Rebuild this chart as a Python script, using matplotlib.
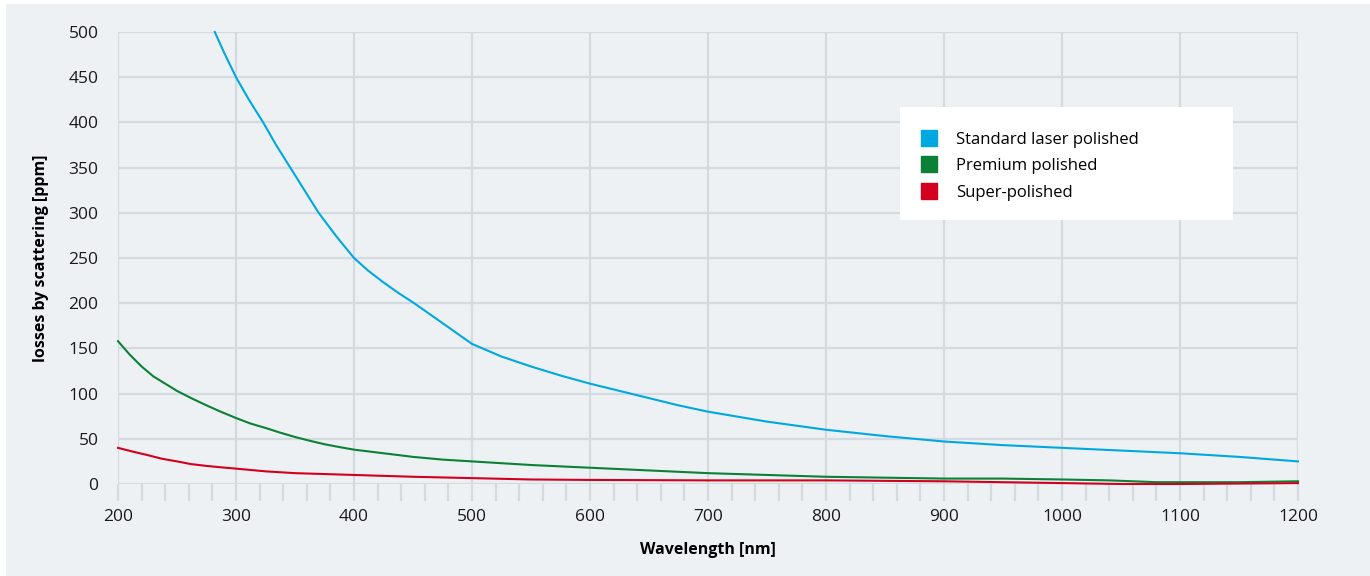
import matplotlib
matplotlib.use("Agg")
import matplotlib.pyplot as plt
from matplotlib.lines import Line2D
from matplotlib.patches import Rectangle
from matplotlib.ticker import MultipleLocator

plt.rcParams['font.family'] = ['Open Sans', 'DejaVu Sans']

# Data
wl_standard = [282, 290, 300, 311, 323, 334, 346, 358, 370, 385, 400, 412, 425, 438, 451, 463, 475, 488, 500,
               525, 550, 575, 600, 625, 650, 675, 700, 750, 800, 850, 900, 950, 1000, 1050, 1100, 1150, 1200]
standard = [500, 477, 450, 425, 400, 375, 350, 325, 300, 274, 250, 236, 223, 211, 200, 189, 178, 166, 155,
            141, 130, 120, 111, 103, 95, 87, 80, 69, 60, 53, 47, 43, 40, 37, 34, 30, 25]

wl_premium = [200, 210, 220, 230, 240, 250, 262, 275, 287, 300, 312, 325, 337, 350, 362, 375, 387, 400,
              425, 450, 475, 500, 550, 600, 650, 700, 750, 800, 850, 900, 950, 1000, 1040, 1060, 1080,
              1100, 1150, 1200]
premium = [158, 143, 130, 119, 111, 103, 95, 87, 80, 73, 67, 62, 57, 52, 48, 44, 41, 38,
           34, 30, 27, 25, 21, 18, 15, 12, 10, 8, 7, 6, 6, 5, 4, 3, 2,
           2, 2, 3]

wl_super = [200, 212, 225, 237, 250, 262, 275, 287, 300, 325, 350, 375, 400, 450, 500, 550, 600, 700,
            800, 900, 950, 1000, 1050, 1100, 1150, 1200]
superp = [40, 36, 32, 28, 25, 22, 20, 18.5, 17, 14, 12, 11, 10, 8, 6.5, 5, 4.5, 4,
          4, 3, 2, 1, 0, 0, 0.5, 1]

series_names = ["Standard laser polished", "Premium polished", "Super-polished"]
colors = ["#00a8e1", "#0a8136", "#d2001e"]

BG = "#edf1f4"
GRID = "#d3dbe0"

fig = plt.figure(figsize=(13.7, 5.76), dpi=100, facecolor="white")
fig.patches.append(Rectangle((6 / 1370, 0), 1 - 6 / 1370, 1 - 4 / 576,
                             transform=fig.transFigure, facecolor=BG,
                             edgecolor="none", zorder=-10))

ax = fig.add_axes([118 / 1370, 1 - 484 / 576, (1298 - 118) / 1370, (484 - 32) / 576])
ax.set_facecolor(BG)
for s in ax.spines.values():
    s.set_visible(False)

ax.set_xlim(200, 1200)
ax.set_ylim(0, 500)
ax.xaxis.set_major_locator(MultipleLocator(100))
ax.xaxis.set_minor_locator(MultipleLocator(20))
ax.yaxis.set_major_locator(MultipleLocator(50))
ax.grid(True, which="major", color=GRID, linewidth=1.6, zorder=0)
ax.set_axisbelow(True)

ax.tick_params(axis="x", which="both", length=12, width=1.6, color=GRID,
               labelsize=12.5, pad=6, labelcolor="#1a1a1a")
ax.tick_params(axis="y", which="both", length=0, labelsize=12.5, pad=14,
               labelcolor="#1a1a1a")

lw = 1.5
ax.plot(wl_standard, standard, color=colors[0], lw=lw, clip_on=False, zorder=5)
ax.plot(wl_premium, premium, color=colors[1], lw=lw, clip_on=False, zorder=4)
ax.plot(wl_super, superp, color=colors[2], lw=lw, clip_on=False, zorder=5)

ax.set_xlabel("Wavelength [nm]", fontsize=11.5, fontweight="bold", labelpad=12)
ax.set_ylabel("losses by scattering [ppm]", fontsize=11.5, fontweight="bold", labelpad=14)

# legend box
fig.patches.append(Rectangle((900 / 1370, 1 - 220 / 576), 333 / 1370, 113 / 576,
                             transform=fig.transFigure, facecolor="white",
                             edgecolor="none", zorder=20))
handles = [Line2D([], [], linestyle="none", marker="s", markersize=11,
                  markerfacecolor=c, markeredgecolor=c) for c in colors]
leg = fig.legend(handles, series_names, loc="upper left",
                 bbox_to_anchor=(921 / 1370, 1 - 132 / 576), frameon=False,
                 fontsize=12, handlelength=1.0, handletextpad=1.1,
                 labelspacing=0.62, borderpad=0, borderaxespad=0)
leg.set_zorder(30)

fig.savefig("out.png", dpi=100, facecolor=fig.get_facecolor())
